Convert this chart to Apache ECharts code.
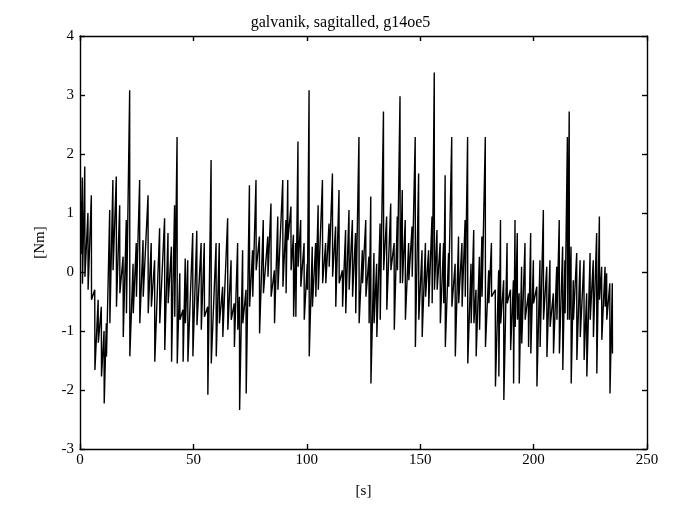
<!DOCTYPE html>
<html>
<head>
<meta charset="utf-8">
<script src="https://cdn.jsdelivr.net/npm/echarts@6/dist/echarts.min.js"></script>
<style>
html,body{margin:0;padding:0;background:#fff;}
#chart{width:681px;height:508px;}
</style>
</head>
<body>
<div id="chart"></div>
<script>
// Stroke times [s] and the high / low extent of each stroke [Nm]
var strokeTimes = [0.3, 1.0, 2.1, 3.5, 5.0, 6.5, 8.0, 9.4, 10.6, 11.6, 13.1, 14.5, 16.0, 17.5, 19.0, 20.4, 21.9, 23.4, 24.8, 26.3, 27.8, 30.0, 31.4, 32.9, 35.1, 37.3, 38.8, 40.3, 41.7, 42.8, 44.0, 45.4, 46.4, 47.5, 49.7, 51.5, 53.4, 54.8, 56.3, 57.8, 60.0, 61.4, 62.9, 65.1, 66.6, 68.0, 69.5, 70.3, 71.7, 73.2, 74.7, 76.1, 77.6, 79.1, 80.8, 82.8, 84.2, 85.7, 87.2, 89.4, 90.8, 91.6, 93.0, 94.1, 95.1, 96.1, 97.3, 98.8, 100.2, 101.0, 102.4, 103.9, 105.0, 106.9, 108.3, 109.8, 111.3, 112.7, 114.2, 115.7, 117.1, 118.6, 120.1, 121.5, 123.0, 124.5, 126.0, 127.4, 128.2, 129.6, 130.8, 132.3, 133.8, 135.2, 137.0, 138.5, 139.9, 141.1, 142.1, 143.4, 144.9, 146.4, 147.8, 149.3, 150.8, 152.3, 153.7, 155.2, 156.2, 157.4, 158.8, 160.3, 161.0, 162.5, 163.9, 165.4, 166.9, 168.4, 169.8, 170.9, 172.4, 173.6, 174.6, 176.1, 177.2, 178.7, 180.2, 181.4, 183.1, 184.6, 185.4, 186.8, 188.3, 189.8, 191.1, 191.8, 192.8, 193.6, 194.7, 196.2, 197.7, 198.7, 199.9, 201.4, 202.8, 204.3, 205.8, 207.2, 208.7, 210.2, 211.3, 212.8, 213.8, 214.9, 215.7, 216.5, 217.5, 219.0, 220.5, 222.2, 223.4, 224.9, 226.3, 227.8, 229.0, 230.0, 231.5, 232.2, 233.6, 234.7];
var strokeHigh = [1.2, 1.6, 1.79, 1.0, 1.3, -0.3, -0.47, -0.59, -1.0, -0.87, 1.05, 1.56, 1.62, 1.13, 0.26, 0.88, 3.08, 0.14, 0.49, 1.56, 0.54, 1.30, 0.49, 0.20, 0.74, 0.91, 0.66, 0.43, 1.13, 2.29, -0.02, -0.64, 0.23, 0.20, 0.66, 0.70, 0.49, 0.49, -0.59, 1.90, 0.49, 0.49, -0.25, 0.91, 0.20, -0.53, 0.49, -0.42, 0.37, -0.30, 1.47, 0.37, 1.56, 0.60, 0.88, 0.60, 1.16, 0.03, 0.94, 1.56, 0.88, 1.56, 1.11, 0.63, 0.49, 2.21, 0.88, 0.49, 0.14, 3.08, 0.43, 0.49, 1.13, 1.56, 0.49, 0.82, 1.67, 0.77, 1.39, 0.03, 0.71, 1.05, 0.88, 0.66, 2.29, 0.37, 0.88, 0.26, 1.28, 0.32, 0.14, 0.82, 2.72, 0.94, 1.16, 0.49, 0.94, 2.98, 1.39, 0.88, 0.49, 0.77, 2.29, 1.67, 0.37, 0.49, 0.37, 0.94, 3.38, 0.71, 0.49, 0.49, 1.64, 0.32, 2.29, 0.14, 0.60, 0.49, 0.88, 2.29, 0.14, 0.71, -0.30, 0.26, 0.60, 2.29, 0.03, 0.49, -0.30, 0.03, 0.88, -0.14, 0.49, -0.30, -0.14, 0.88, 0.66, -0.36, 0.09, 0.49, -0.36, 0.66, 0.20, -0.25, 0.20, 1.05, 0.09, 0.20, -0.36, 0.09, 0.88, 0.43, 0.20, 2.29, 2.72, 0.43, -0.14, 0.32, 0.20, 0.20, -0.36, 0.32, 0.20, 0.66, 0.94, 0.09, 0.09, -0.02, -0.19, -0.19];
var strokeLow = [0.3, -0.2, -0.08, -0.3, -0.47, -1.66, -1.2, -1.77, -2.23, -1.43, -0.87, 0.03, -0.59, -0.36, -1.10, -0.70, -1.43, -0.70, -0.42, -0.87, -0.42, -0.70, -0.59, -1.52, -0.87, -1.32, -0.53, -1.52, -0.76, -1.55, -0.81, -1.52, -0.87, -1.52, -1.43, -0.90, -0.98, -0.76, -2.08, -1.55, -1.43, -0.87, -1.10, -0.98, -0.81, -1.27, -0.98, -2.34, -0.87, -2.06, -0.59, -0.42, 0.03, -1.04, -0.36, -0.08, -0.42, -0.87, -0.30, -0.25, -0.36, 0.54, 0.03, -0.76, -0.76, 0.09, -0.25, -0.81, -0.30, -1.43, -0.59, -0.42, -0.30, -0.19, -0.19, 0.09, -0.08, -0.59, -0.19, -0.59, -0.70, -0.30, -0.42, -0.70, -0.87, -0.19, -0.42, -0.87, -1.89, -0.87, -1.10, -0.81, 0.03, -0.64, 0.03, -0.98, 0.03, -0.19, -0.19, -0.81, -0.14, -0.08, -1.27, -0.81, -1.10, -0.42, -0.59, -0.53, -0.30, -0.30, -0.87, -0.53, -1.27, -0.25, -0.59, -1.43, -0.53, -0.59, -0.42, -1.55, -0.87, -0.87, -1.43, -0.98, -0.42, -1.27, -0.53, -0.42, -1.94, -1.77, -0.87, -2.17, -0.53, -1.32, -1.89, -0.93, -0.81, -1.89, -1.21, -0.81, -1.27, -1.38, -0.53, -1.94, -1.27, -0.81, -1.44, -0.93, -1.38, -0.81, -1.38, -1.66, -0.70, -0.81, -0.81, -1.89, -0.81, -1.49, -1.10, -1.49, -1.77, -0.81, -1.10, -1.72, -0.47, -1.15, -0.59, -0.81, -2.06, -1.38];

var titleText = 'galvanik, sagitalled, g14oe5';
var xName = '[s]';
var yName = '[Nm]';

var seriesData = [];
for (var i = 0; i < strokeTimes.length; i++) {
  seriesData.push([strokeTimes[i], strokeHigh[i]]);
  seriesData.push([strokeTimes[i] + 0.08, strokeLow[i]]);
}

var serif = '"Liberation Serif", "DejaVu Serif", serif';
var chart = echarts.init(document.getElementById('chart'), null, {renderer: 'canvas'});
var axisLineStyle = {color: '#000', width: 1.4};
chart.setOption({
  animation: false,
  backgroundColor: '#fff',
  title: {
    text: titleText, left: 'center', top: 10,
    textStyle: {fontFamily: serif, fontSize: 16, fontWeight: 'normal', color: '#000'}
  },
  grid: {left: 80, right: 34, top: 36, bottom: 59, containLabel: false},
  xAxis: [{
    type: 'value', min: 0, max: 250, interval: 50, position: 'bottom',
    name: xName, nameLocation: 'middle', nameGap: 35,
    nameTextStyle: {fontFamily: serif, fontSize: 15, color: '#000'},
    axisLine: {show: true, onZero: false, lineStyle: axisLineStyle},
    axisTick: {show: true, inside: true, length: 5, lineStyle: axisLineStyle},
    axisLabel: {fontFamily: serif, fontSize: 15, color: '#000', margin: 4},
    splitLine: {show: false}
  }, {
    type: 'value', min: 0, max: 250, interval: 50, position: 'top',
    axisLine: {show: true, onZero: false, lineStyle: axisLineStyle},
    axisTick: {show: true, inside: true, length: 5, lineStyle: axisLineStyle},
    axisLabel: {show: false}, splitLine: {show: false}
  }],
  yAxis: [{
    type: 'value', min: -3, max: 4, interval: 1, position: 'left',
    name: yName, nameLocation: 'middle', nameGap: 32,
    nameTextStyle: {fontFamily: serif, fontSize: 15, color: '#000'},
    axisLine: {show: true, onZero: false, lineStyle: axisLineStyle},
    axisTick: {show: true, inside: true, length: 5, lineStyle: axisLineStyle},
    axisLabel: {fontFamily: serif, fontSize: 15, color: '#000', margin: 6},
    splitLine: {show: false}
  }, {
    type: 'value', min: -3, max: 4, interval: 1, position: 'right',
    axisLine: {show: true, onZero: false, lineStyle: axisLineStyle},
    axisTick: {show: true, inside: true, length: 5, lineStyle: axisLineStyle},
    axisLabel: {show: false}, splitLine: {show: false}
  }],
  series: [{
    type: 'line', xAxisIndex: 0, yAxisIndex: 0,
    data: seriesData, showSymbol: false, symbol: 'none',
    lineStyle: {color: '#000', width: 1.4},
    silent: true
  }]
});
</script>
</body>
</html>
